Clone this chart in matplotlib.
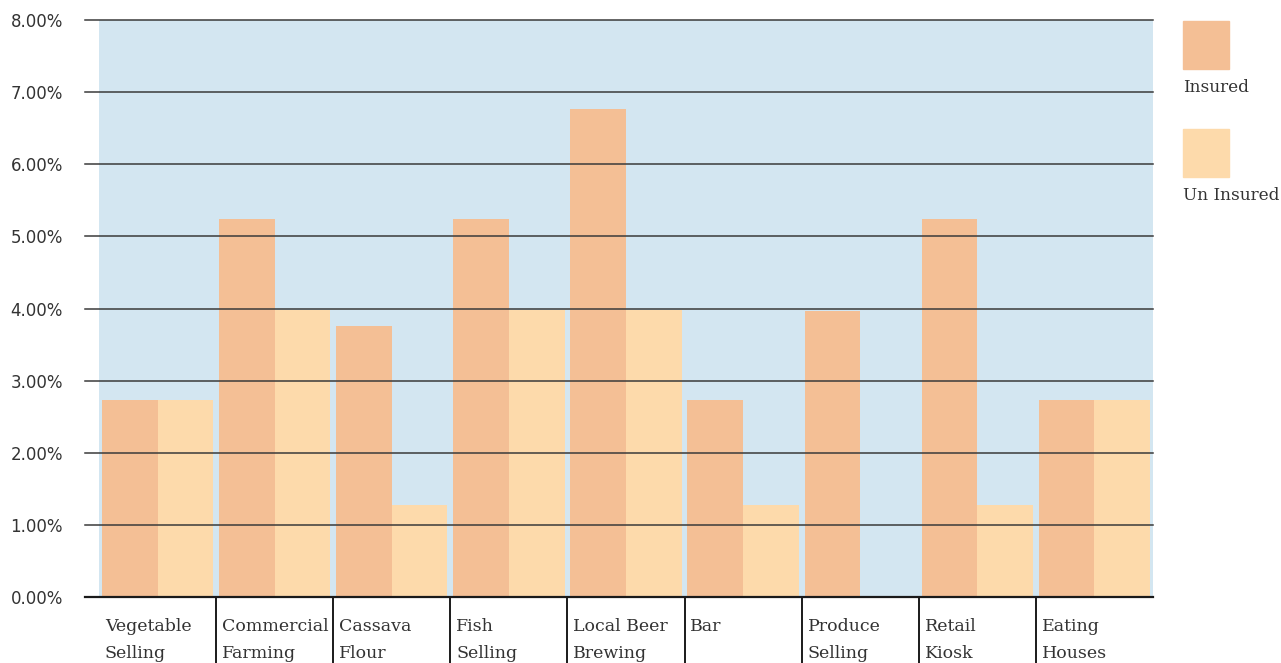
import numpy as np
import matplotlib
matplotlib.use("Agg")
import matplotlib.pyplot as plt
from matplotlib.patches import Rectangle

# values (percent)
categories = ["Vegetable\nSelling", "Commercial\nFarming", "Cassava\nFlour",
              "Fish\nSelling", "Local Beer\nBrewing", "Bar",
              "Produce\nSelling", "Retail\nKiosk", "Eating\nHouses"]
insured = [2.73, 5.24, 3.76, 5.24, 6.76, 2.73, 3.97, 5.24, 2.73]
uninsured = [2.73, 3.98, 1.28, 3.98, 3.98, 1.28, 0.0, 1.28, 2.73]
yticks = [0, 1, 2, 3, 4, 5, 6, 7, 8]
ytick_labels = ["%.2f%%" % v for v in yticks]
series_names = ["Insured", "Un Insured"]

c_ins = "#F4BF95"
c_unins = "#FDDAAB"
c_bg = "#D3E6F1"
c_text = "#333333"

W, H = 1281, 663
fig = plt.figure(figsize=(W / 100, H / 100), dpi=100)
ax = fig.add_axes([99 / W, 66 / H, (1153 - 99) / W, 577 / H])
ax.set_facecolor(c_bg)

x = np.arange(len(categories))
bw = 0.475
ax.bar(x, insured, width=-bw, align="edge", color=c_ins, zorder=2)
ax.bar(x, uninsured, width=bw, align="edge", color=c_unins, zorder=2)

ax.set_xlim(-0.5, len(categories) - 0.5)
ax.set_ylim(0, 8)

for s in ax.spines.values():
    s.set_visible(False)

# horizontal grid lines, running a bit past the left edge
ext = -14 / 1054
for v in yticks:
    if v == 0:
        ax.plot([ext, 1], [v, v], transform=ax.get_yaxis_transform(),
                color="#1a1a1a", lw=1.6, clip_on=False, zorder=4)
    else:
        ax.plot([ext, 1], [v, v], transform=ax.get_yaxis_transform(),
                color="#3a3a3a", lw=1.1, clip_on=False, zorder=3)

ax.set_yticks(yticks)
ax.set_yticklabels(ytick_labels, fontsize=12, color=c_text, family="DejaVu Sans")
ax.tick_params(axis="y", length=0, pad=26)
ax.set_xticks([])

# separators under the axis between categories
for i in range(len(categories) - 1):
    ax.plot([i + 0.5, i + 0.5], [0, -70 / 577], transform=ax.get_xaxis_transform(),
            color="#1a1a1a", lw=1.4, clip_on=False)

for i, lab in enumerate(categories):
    ax.text(i - 0.45, -0.037, lab, transform=ax.get_xaxis_transform(),
            ha="left", va="top", fontsize=12.5, family="DejaVu Serif",
            color=c_text, linespacing=1.75)

# legend drawn by hand on the right
for k, (name, col) in enumerate(zip(series_names, [c_ins, c_unins])):
    top = 21 + k * 108
    fig.add_artist(Rectangle((1183 / W, 1 - (top + 48) / H), 46 / W, 48 / H,
                             transform=fig.transFigure, color=col))
    fig.text(1183 / W, 1 - (top + 66) / H, name, ha="left", va="center",
             fontsize=12.2, family="DejaVu Serif", color=c_text)

fig.savefig("out.png", dpi=100)
